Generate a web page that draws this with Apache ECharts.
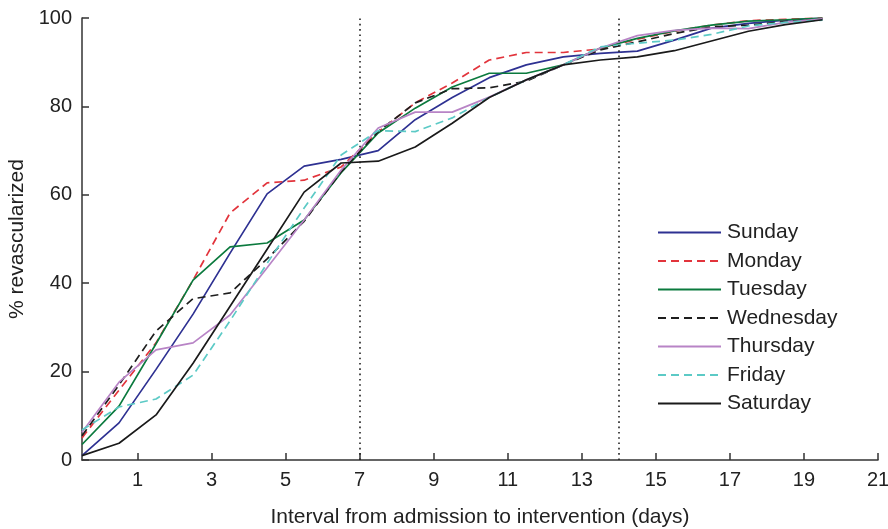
<!DOCTYPE html>
<html>
<head>
<meta charset="utf-8">
<script src="https://cdn.jsdelivr.net/npm/echarts@6/dist/echarts.min.js"></script>
<style>
html,body{margin:0;padding:0;background:#fff;}
#chart{width:888px;height:529px;}
</style>
</head>
<body>
<div id="chart"></div>
<script>
// Days from admission (plotted at half-day positions)
var days = [-0.5, 0.5, 1.5, 2.5, 3.5, 4.5, 5.5, 6.5, 7.5, 8.5, 9.5, 10.5, 11.5, 12.5, 13.5, 14.5, 15.5, 16.5, 17.5, 18.5, 19.5];

var sunday    = [1, 8.4, 20.5, 33, 46.8, 60.2, 66.5, 68, 70, 77, 82, 86.5, 89.4, 91.2, 92, 92.5, 95, 97.7, 98.8, 99.5, 100];
var monday    = [5, 15.8, 26.5, 40.7, 55.9, 62.7, 63.3, 66.3, 74.2, 80.8, 85.3, 90.5, 92.2, 92.2, 93, 95.2, 97, 98.4, 99.4, 99.7, 100];
var tuesday   = [3.5, 12.2, 26.3, 40.7, 48.2, 49.1, 54.3, 65, 74, 79.6, 84.4, 87.5, 87.5, 89.4, 93.2, 95.4, 97.1, 98.4, 99.3, 99.6, 100];
var wednesday = [5.5, 17, 29.2, 36.5, 37.8, 45.5, 54, 65.2, 74.3, 80.8, 84, 84.2, 85.7, 89.4, 92.8, 94.6, 96.5, 98, 98.4, 99.2, 99.7];
var thursday  = [6.3, 17.6, 24.9, 26.5, 32.8, 43.5, 54.3, 65.6, 75.1, 78.7, 78.7, 82.1, 86, 89.4, 93.2, 96, 97.2, 97.7, 97.6, 99, 99.8];
var friday    = [6.8, 12, 13.8, 19.2, 31.5, 44.5, 57, 69, 74.5, 74.3, 77.4, 82, 86, 89.4, 93.5, 94.3, 95, 96.3, 98.2, 99, 99.5];
var saturday  = [1, 3.8, 10.2, 21.9, 34.8, 47.7, 60.6, 67.2, 67.6, 70.8, 76.2, 82, 86, 89.4, 90.5, 91.2, 92.6, 94.8, 97, 98.5, 99.6];

var seriesNames = ['Sunday', 'Monday', 'Tuesday', 'Wednesday', 'Thursday', 'Friday', 'Saturday'];
var xTickValues = [1, 3, 5, 7, 9, 11, 13, 15, 17, 19, 21];
var referenceDays = [7, 14];

var allData = [sunday, monday, tuesday, wednesday, thursday, friday, saturday];
var colors = ['#2e3192', '#e2343c', '#0b7a3e', '#1e1e1e', '#b884c6', '#5ccac6', '#1a1a1a'];
var dashed = [false, true, false, true, false, true, false];

function pairs(vals) {
  return days.map(function (d, i) { return [d, vals[i]]; });
}

var series = allData.map(function (vals, i) {
  return {
    name: seriesNames[i],
    type: 'line',
    data: pairs(vals),
    symbol: 'none',
    symbolSize: 0,
    smooth: false,
    lineStyle: {
      color: colors[i],
      width: 1.7,
      type: dashed[i] ? [8, 5] : 'solid'
    },
    itemStyle: { color: colors[i] },
    z: 3
  };
});

series[0].markLine = {
  silent: true,
  symbol: ['none', 'none'],
  label: { show: false },
  lineStyle: { color: '#222', width: 1.6, type: [1.6, 3.7] },
  data: referenceDays.map(function (d) { return { xAxis: d }; }),
  animation: false
};

var font = 'Liberation Sans, Arial, Helvetica, sans-serif';
var chart = echarts.init(document.getElementById('chart'), null, { renderer: 'canvas' });
chart.setOption({
  animation: false,
  backgroundColor: '#fff',
  grid: { left: 82, right: 10, top: 18, bottom: 69, containLabel: false, outerBoundsMode: 'none' },
  legend: {
    orient: 'vertical',
    left: 652,
    top: 217,
    itemWidth: 63,
    itemHeight: 14,
    itemGap: 7.5,
    itemStyle: { opacity: 0 },
    data: seriesNames,
    textStyle: { fontFamily: font, fontSize: 21, color: '#222', lineHeight: 21, padding: [0, 0, 0, 1] }
  },
  xAxis: {
    type: 'value',
    min: -0.5,
    max: 21,
    name: 'Interval from admission to intervention (days)',
    nameLocation: 'middle',
    nameGap: 47,
    nameTextStyle: { fontFamily: font, fontSize: 21, color: '#222' },
    axisLine: { show: true, onZero: false, lineStyle: { color: '#333', width: 1.5 } },
    axisTick: { show: true, inside: true, length: 7, customValues: xTickValues, lineStyle: { color: '#333', width: 1.5 } },
    axisLabel: { show: true, customValues: xTickValues, margin: 10, fontFamily: font, fontSize: 20, color: '#222' },
    splitLine: { show: false }
  },
  yAxis: {
    type: 'value',
    min: 0,
    max: 100,
    interval: 20,
    name: '% revascularized',
    nameLocation: 'middle',
    nameRotate: 90,
    nameGap: 54,
    nameTextStyle: { fontFamily: font, fontSize: 21, color: '#222' },
    axisLine: { show: true, onZero: false, lineStyle: { color: '#333', width: 1.5 } },
    axisTick: { show: true, inside: true, length: 7, lineStyle: { color: '#333', width: 1.5 } },
    axisLabel: { show: true, margin: 10, fontFamily: font, fontSize: 20, color: '#222' },
    splitLine: { show: false }
  },
  series: series
});
</script>
</body>
</html>
